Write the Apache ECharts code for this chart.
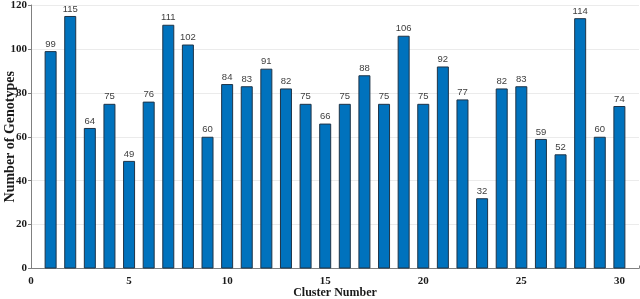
<!DOCTYPE html>
<html>
<head>
<meta charset="utf-8">
<script src="https://cdn.jsdelivr.net/npm/echarts@6/dist/echarts.min.js"></script>
<style>html,body{margin:0;padding:0;background:#fff}#c{width:640px;height:299px}</style>
</head>
<body>
<div id="c"></div>
<script>
const clusters = [1,2,3,4,5,6,7,8,9,10,11,12,13,14,15,16,17,18,19,20,21,22,23,24,25,26,27,28,29,30];
const genotypes = [99,115,64,75,49,76,111,102,60,84,83,91,82,75,66,75,88,75,106,75,92,77,32,82,83,59,52,114,60,74];
const xTicks = [0,5,10,15,20,25,30];
const yTicks = [0,20,40,60,80,100,120];

const chart = echarts.init(document.getElementById('c'), null, {renderer:'canvas'});
const serif = '"Liberation Serif", "Times New Roman", serif';
chart.setOption({
  animation:false,
  grid:{left:31, right:1, top:5, bottom:30.5, containLabel:false, outerBoundsMode:'none'},
  xAxis:{
    type:'value', min:0, max:31, interval:5,
    name:'Cluster Number', nameLocation:'middle', nameGap:18, nameMoveOverlap:false,
    nameTextStyle:{fontFamily:serif, fontWeight:'bold', fontSize:12, color:'#1a1a1a'},
    axisLine:{lineStyle:{color:'#808080', width:1}},
    axisTick:{show:true, inside:true, length:3, lineStyle:{color:'#808080'}},
    splitLine:{show:false},
    axisLabel:{fontFamily:serif, fontWeight:'bold', fontSize:11, color:'#1a1a1a', margin:7,
      formatter:v => xTicks.indexOf(v) >= 0 ? String(v) : ''}
  },
  yAxis:{
    type:'value', min:0, max:120, interval:20,
    name:'Number of Genotypes', nameLocation:'middle', nameGap:14, nameMoveOverlap:false,
    nameTextStyle:{fontFamily:serif, fontWeight:'bold', fontSize:14, color:'#1a1a1a'},
    axisLine:{show:true, lineStyle:{color:'#808080', width:1}},
    axisTick:{show:true, inside:false, length:3, lineStyle:{color:'#808080'}},
    splitLine:{show:true, lineStyle:{color:'#ebebeb', width:1}},
    axisLabel:{fontFamily:serif, fontWeight:'bold', fontSize:11, color:'#1a1a1a', margin:4,
      formatter:v => yTicks.indexOf(v) >= 0 ? String(v) : ''}
  },
  series:[{
    type:'bar',
    data: clusters.map((c,i)=>[c, genotypes[i]]),
    barWidth:12,
    itemStyle:{color:'#0072BD', borderColor:'#1f3447', borderWidth:1},
    label:{show:true, position:'top', distance:2,
      fontFamily:'"Liberation Sans Narrow", "Liberation Sans", Arial, sans-serif',
      fontSize:9.5, color:'#404040'}
  }]
});
</script>
</body>
</html>
